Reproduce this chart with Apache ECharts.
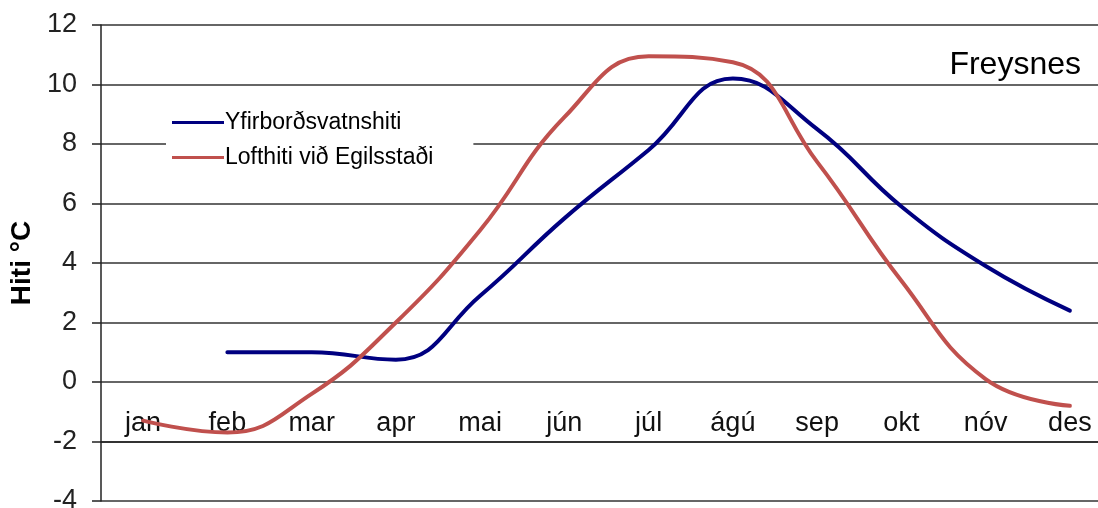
<!DOCTYPE html>
<html>
<head>
<meta charset="utf-8">
<script src="https://cdn.jsdelivr.net/npm/echarts@6/dist/echarts.min.js"></script>
<style>html,body{margin:0;padding:0;background:#fff}#c{width:1098px;height:508px}</style>
</head>
<body>
<div id="c"></div>
<script>
const categories = ['jan','feb','mar','apr','mai','jún','júl','ágú','sep','okt','nóv','des'];
const waterTemp = [null, 1.0, 1.0, 0.75, 2.9, 5.5, 7.8, 10.2, 8.5, 5.9, 3.9, 2.4];
const airTemp = [-1.3, -1.7, -0.4, 2.0, 5.1, 8.9, 10.95, 10.75, 7.4, 3.4, 0.1, -0.8];
const seriesNames = ['Yfirborðsvatnshiti', 'Lofthiti við Egilsstaði'];
const yMin = -4, yMax = 12, yStep = 2;

const chart = echarts.init(document.getElementById('c'), null, {renderer: 'canvas'});
chart.setOption({
  animation: false,
  backgroundColor: '#ffffff',
  textStyle: {fontFamily: 'Liberation Sans, Arial, sans-serif'},
  title: {
    text: 'Freysnes',
    right: 12, top: 44,
    textStyle: {fontSize: 32, fontWeight: 'normal', color: '#000', fontFamily: 'Liberation Sans, Arial, sans-serif'}
  },
  legend: {
    orient: 'vertical',
    left: 166, top: 109,
    backgroundColor: '#ffffff',
    padding: [2, 40, 4, 6],
    itemGap: 12,
    itemWidth: 52, itemHeight: 3,
    icon: 'rect',
    textStyle: {fontSize: 23, color: '#000', padding: [0, 0, 0, -4]},
    data: seriesNames
  },
  grid: {left: 101, width: 1011, top: 25, height: 476, containLabel: false, outerBoundsMode: 'none'},
  xAxis: {
    type: 'category',
    data: categories,
    boundaryGap: true,
    position: 'bottom',
    offset: -59.5,
    axisLine: {show: true, onZero: false, lineStyle: {color: '#222', width: 1.5}},
    axisTick: {show: false},
    axisLabel: {inside: true, margin: 4, fontSize: 27, color: '#111', verticalAlign: 'bottom', interval: 0},
    splitLine: {show: false}
  },
  yAxis: {
    type: 'value',
    min: yMin, max: yMax, interval: yStep,
    name: 'Hiti °C',
    nameLocation: 'middle',
    nameGap: 61,
    nameRotate: 90,
    nameTextStyle: {fontSize: 28, fontWeight: 'bold', color: '#000'},
    axisLine: {show: true, lineStyle: {color: '#222', width: 1.5}},
    axisTick: {show: true, length: 9, lineStyle: {color: '#222', width: 1.5}},
    axisLabel: {fontSize: 27, color: '#222', margin: 24},
    splitLine: {show: true, lineStyle: {color: '#333', width: 1.5}}
  },
  series: [
    {
      name: seriesNames[0], type: 'line', data: waterTemp,
      smooth: 0.45, showSymbol: false, symbol: 'none',
      connectNulls: false,
      itemStyle: {color: '#000080'},
      lineStyle: {color: '#000080', width: 4, cap: 'round'},
      z: 3
    },
    {
      name: seriesNames[1], type: 'line', data: airTemp,
      smooth: 0.45, showSymbol: false, symbol: 'none',
      itemStyle: {color: '#C0504D'},
      lineStyle: {color: '#C0504D', width: 4, cap: 'round'},
      z: 4
    }
  ]
});
</script>
</body>
</html>
